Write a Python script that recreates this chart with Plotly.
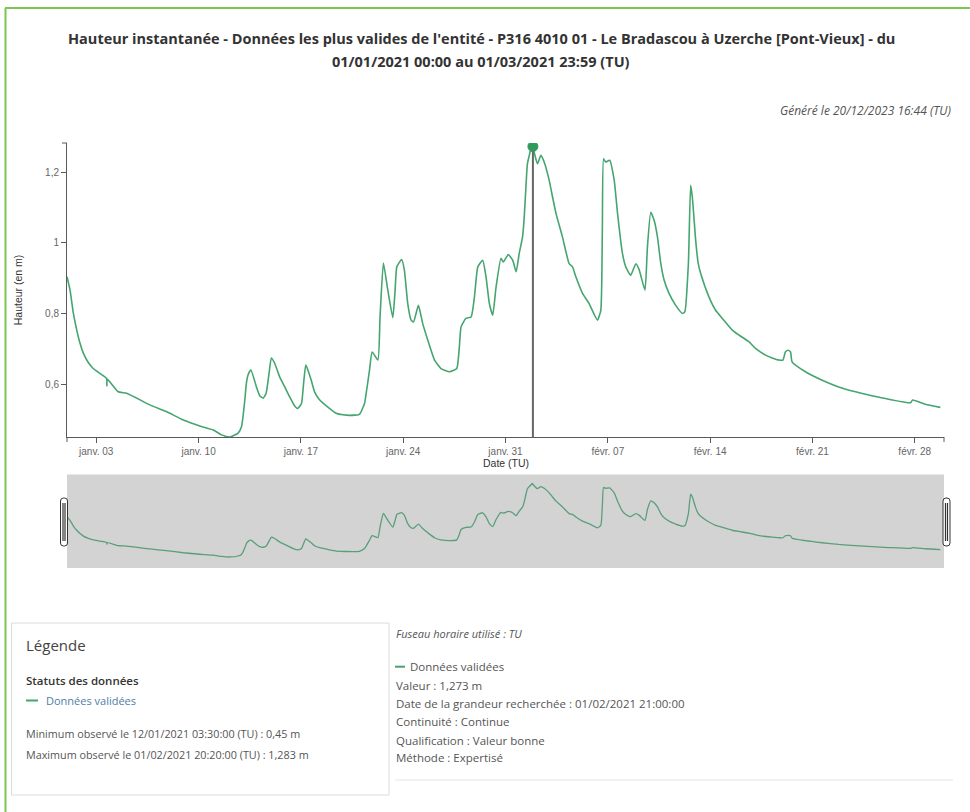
import plotly.graph_objects as go

# --- Série : hauteur instantanée (m), P316 4010 01, janvier-février 2021 (TU) ---
dates = [
    "2021-01-01 00:00", "2021-01-01 05:00", "2021-01-01 10:30", "2021-01-01 16:00",
    "2021-01-01 21:30", "2021-01-02 03:00", "2021-01-02 11:00", "2021-01-02 19:00",
    "2021-01-03 06:00", "2021-01-03 17:00", "2021-01-03 17:30", "2021-01-03 18:00",
    "2021-01-04 12:00", "2021-01-05 02:00", "2021-01-06 16:00", "2021-01-07 19:00",
    "2021-01-08 23:00", "2021-01-10 02:00", "2021-01-11 00:00", "2021-01-11 14:00",
    "2021-01-12 03:30", "2021-01-12 17:00", "2021-01-12 22:30", "2021-01-13 01:00",
    "2021-01-13 04:00", "2021-01-13 06:30", "2021-01-13 09:30", "2021-01-13 14:00",
    "2021-01-13 23:00", "2021-01-14 04:30", "2021-01-14 10:00", "2021-01-14 15:00",
    "2021-01-14 19:45", "2021-01-14 23:30", "2021-01-15 05:00", "2021-01-15 13:00",
    "2021-01-15 21:30", "2021-01-16 05:30", "2021-01-16 13:45", "2021-01-16 19:00",
    "2021-01-17 01:00", "2021-01-17 04:30", "2021-01-17 08:00", "2021-01-17 11:30",
    "2021-01-17 17:00", "2021-01-17 22:30", "2021-01-18 07:00", "2021-01-18 23:00",
    "2021-01-19 10:00", "2021-01-20 02:30", "2021-01-21 00:00", "2021-01-21 08:30",
    "2021-01-21 11:15", "2021-01-21 16:45", "2021-01-21 21:00", "2021-01-22 06:30",
    "2021-01-22 10:00", "2021-01-22 15:30", "2021-01-22 22:45", "2021-01-23 07:00",
    "2021-01-23 10:45", "2021-01-23 13:30", "2021-01-23 21:30", "2021-01-24 02:00",
    "2021-01-24 07:30", "2021-01-24 13:00", "2021-01-24 17:00", "2021-01-25 01:00",
    "2021-01-25 08:00", "2021-01-25 16:30", "2021-01-26 03:30", "2021-01-26 14:00",
    "2021-01-27 04:00", "2021-01-27 16:00", "2021-01-27 20:15", "2021-01-27 23:00",
    "2021-01-28 07:00", "2021-01-28 15:30", "2021-01-28 21:00", "2021-01-29 02:30",
    "2021-01-29 10:30", "2021-01-29 16:00", "2021-01-29 21:30", "2021-01-30 03:00",
    "2021-01-30 08:30", "2021-01-30 16:30", "2021-01-30 20:30", "2021-01-31 04:30",
    "2021-01-31 11:45", "2021-01-31 17:30", "2021-01-31 22:30", "2021-02-01 04:00",
    "2021-02-01 06:45", "2021-02-01 09:30", "2021-02-01 12:00", "2021-02-01 20:20",
    "2021-02-01 21:00", "2021-02-02 04:30", "2021-02-02 10:00", "2021-02-02 15:30",
    "2021-02-02 23:45", "2021-02-03 05:15", "2021-02-03 11:00", "2021-02-03 21:30",
    "2021-02-04 08:30", "2021-02-04 14:00", "2021-02-04 19:30", "2021-02-05 06:30",
    "2021-02-05 17:15", "2021-02-06 07:00", "2021-02-06 12:30", "2021-02-06 15:00",
    "2021-02-06 17:00", "2021-02-06 20:30", "2021-02-07 03:00", "2021-02-07 10:30",
    "2021-02-07 16:00", "2021-02-08 00:00", "2021-02-08 05:30", "2021-02-08 13:30",
    "2021-02-08 22:00", "2021-02-09 03:15", "2021-02-09 13:00", "2021-02-09 17:00",
    "2021-02-09 22:30", "2021-02-10 04:00", "2021-02-10 09:30", "2021-02-10 15:00",
    "2021-02-10 20:30", "2021-02-11 04:30", "2021-02-11 15:30", "2021-02-12 02:30",
    "2021-02-12 06:30", "2021-02-12 12:15", "2021-02-12 16:00", "2021-02-12 18:45",
    "2021-02-13 00:15", "2021-02-13 04:30", "2021-02-13 08:30", "2021-02-13 22:00",
    "2021-02-14 09:00", "2021-02-14 20:00", "2021-02-15 12:15", "2021-02-15 23:15",
    "2021-02-16 15:30", "2021-02-17 02:30", "2021-02-17 19:00", "2021-02-18 05:45",
    "2021-02-18 17:00", "2021-02-18 23:30", "2021-02-19 03:30", "2021-02-19 08:00",
    "2021-02-19 12:00", "2021-02-19 14:30", "2021-02-20 12:30", "2021-02-21 16:00",
    "2021-02-22 19:00", "2021-02-23 22:30", "2021-02-25 01:30", "2021-02-26 05:15",
    "2021-02-27 17:00", "2021-02-27 20:30", "2021-02-28 17:15", "2021-03-01 18:00",
]
hauteur = [
    0.904, 0.866, 0.800, 0.753,
    0.715, 0.687, 0.661, 0.644,
    0.630, 0.616, 0.595, 0.614,
    0.578, 0.574, 0.541, 0.522,
    0.498, 0.481, 0.470, 0.456,
    0.450, 0.461, 0.479, 0.508,
    0.555, 0.602, 0.627, 0.640,
    0.592, 0.567, 0.560, 0.574,
    0.630, 0.674, 0.659, 0.621,
    0.592, 0.564, 0.538, 0.531,
    0.545, 0.602, 0.654, 0.640,
    0.611, 0.578, 0.555, 0.531,
    0.517, 0.512, 0.514, 0.545,
    0.574, 0.640, 0.691, 0.668,
    0.790, 0.943, 0.866, 0.788,
    0.866, 0.932, 0.953, 0.922,
    0.828, 0.781, 0.776, 0.823,
    0.772, 0.724, 0.668, 0.644,
    0.635, 0.644, 0.706, 0.762,
    0.786, 0.790, 0.847, 0.932,
    0.951, 0.904, 0.828, 0.795,
    0.875, 0.956, 0.946, 0.967,
    0.951, 0.918, 0.970, 1.017,
    1.073, 1.158, 1.224, 1.283,
    1.273, 1.224, 1.248, 1.229,
    1.177, 1.130, 1.083, 1.017,
    0.941, 0.932, 0.904, 0.857,
    0.828, 0.781, 0.809, 1.036,
    1.238, 1.229, 1.234, 1.177,
    1.083, 0.970, 0.932, 0.908,
    0.941, 0.925, 0.866, 0.988,
    1.087, 1.064, 1.017, 0.941,
    0.894, 0.857, 0.823, 0.800,
    0.805, 0.941, 1.163, 1.130,
    1.007, 0.941, 0.913, 0.847,
    0.809, 0.786, 0.753, 0.739,
    0.720, 0.701, 0.682, 0.674,
    0.668, 0.668, 0.691, 0.696,
    0.691, 0.663, 0.635, 0.611,
    0.592, 0.578, 0.567, 0.557,
    0.547, 0.555, 0.543, 0.534,
]

# Période affichée et graduations de l'axe des dates
periode = ["2021-01-01 00:00", "2021-03-01 23:59"]
x_tickvals = ["2021-01-03", "2021-01-10", "2021-01-17", "2021-01-24", "2021-01-31",
              "2021-02-07", "2021-02-14", "2021-02-21", "2021-02-28"]
x_ticktext = ["janv. 03", "janv. 10", "janv. 17", "janv. 24", "janv. 31",
              "févr. 07", "févr. 14", "févr. 21", "févr. 28"]

# Extrêmes observés et point recherché
minimum = ("12/01/2021 03:30:00", 0.45)
maximum = ("01/02/2021 20:20:00", 1.283)
point_date = "2021-02-01 21:00"
point_label = "01/02/2021 21:00:00"
point_valeur = 1.273

# Échelle verticale du navigateur
nav_range = [0.325, 1.385]


def fr(v, nd=None):
    s = f"{v:.{nd}f}" if nd is not None else f"{v:g}"
    return s.replace(".", ",")


# Géométrie de la page (pixels)
W, H = 970, 812
L, R, T, B = 67, 26, 143, 244
PW, PH = W - L - R, H - T - B
MAIN_BOTTOM = 437
NAV_TOP = 474.5


def px(x):
    return (x - L) / PW


def py(y):
    return (T + PH - y) / PH


VERT = "#45a56f"
GRIS_TXT = "#555555"
AXE = "#5a5a5a"
F_UI = "Open Sans"
F_AX = "Liberation Sans"

fig = go.Figure()
fig.add_trace(go.Scatter(
    x=dates, y=hauteur, mode="lines", name="Données validées",
    line=dict(color=VERT, width=1.6, shape="spline", smoothing=0.45),
    hoverinfo="skip", showlegend=False, xaxis="x", yaxis="y",
))
# navigateur sous le graphique principal
fig.add_trace(go.Scatter(
    x=dates, y=hauteur, mode="lines", name="navigateur",
    line=dict(color="#5a9f7a", width=1.3, shape="spline", smoothing=0.45),
    hoverinfo="skip", showlegend=False, xaxis="x2", yaxis="y2",
))


def handle(x0, x1, y0, y1, r=3):
    """Poignée arrondie du navigateur (coordonnées pixels -> papier)."""
    X0, X1 = px(x0), px(x1)
    Y0, Y1 = py(y0), py(y1)
    rx, ry = r / PW, r / PH
    path = (f"M{X0 + rx},{Y0} L{X1 - rx},{Y0} Q{X1},{Y0} {X1},{Y0 - ry} "
            f"L{X1},{Y1 + ry} Q{X1},{Y1} {X1 - rx},{Y1} L{X0 + rx},{Y1} "
            f"Q{X0},{Y1} {X0},{Y1 + ry} L{X0},{Y0 - ry} Q{X0},{Y0} {X0 + rx},{Y0} Z")
    out = [dict(type="path", xref="paper", yref="paper", path=path,
                fillcolor="white", line=dict(color="#333333", width=1))]
    for xi in (x0 + 2.5, x1 - 2.5):
        out.append(dict(type="line", xref="paper", yref="paper",
                        x0=px(xi), x1=px(xi), y0=py(y0 + 5), y1=py(y1 - 5),
                        line=dict(color="#333333", width=1.2)))
    return out


shapes = [
    # fond gris du navigateur
    dict(type="rect", xref="x2 domain", yref="y2 domain", x0=0, x1=1, y0=0, y1=1,
         fillcolor="#d3d3d3", line=dict(width=0), layer="below"),
    # repère vertical du point recherché
    dict(type="line", xref="x", yref="y", x0=point_date, x1=point_date,
         y0=minimum[1], y1=point_valeur, line=dict(color="#666666", width=2)),
    dict(type="circle", xref="x", yref="y", xsizemode="pixel", ysizemode="pixel",
         xanchor=point_date, yanchor=point_valeur, x0=-5, x1=5, y0=-5, y1=5,
         fillcolor="#2f9a5c", line=dict(color="#2f9a5c", width=1)),
    # petites graduations aux extrémités des axes
    dict(type="line", xref="paper", yref="paper", x0=px(L - 5), x1=0, y0=1, y1=1,
         line=dict(color=AXE, width=1)),
    dict(type="line", xref="paper", yref="paper", x0=0, x1=0,
         y0=py(MAIN_BOTTOM), y1=py(MAIN_BOTTOM + 5), line=dict(color=AXE, width=1)),
    dict(type="line", xref="paper", yref="paper", x0=1, x1=1,
         y0=py(MAIN_BOTTOM), y1=py(MAIN_BOTTOM + 5), line=dict(color=AXE, width=1)),
    # cadre vert de la page
    dict(type="line", xref="paper", yref="paper", x0=px(5.5), x1=px(5.5), y0=py(8), y1=py(812),
         line=dict(color="#7bc751", width=2)),
    dict(type="line", xref="paper", yref="paper", x0=px(5), x1=px(970), y0=py(8), y1=py(8),
         line=dict(color="#7bc751", width=2)),
    # encadré de légende
    dict(type="rect", xref="paper", yref="paper", x0=px(11.5), x1=px(389), y0=py(623), y1=py(795),
         line=dict(color="#dcdcdc", width=1), fillcolor="rgba(0,0,0,0)"),
    # tirets de série
    dict(type="line", xref="paper", yref="paper", x0=px(26), x1=px(38), y0=py(700.5), y1=py(700.5),
         line=dict(color=VERT, width=2)),
    dict(type="line", xref="paper", yref="paper", x0=px(395), x1=px(405), y0=py(666.7), y1=py(666.7),
         line=dict(color=VERT, width=2)),
    # séparateur du panneau d'information
    dict(type="line", xref="paper", yref="paper", x0=px(395), x1=px(953), y0=py(780), y1=py(780),
         line=dict(color="#e6e6e6", width=1)),
]
shapes += handle(60.5, 67.5, 498, 546)
shapes += handle(943, 950, 498, 546)


def note(text, x, y, size=11, color=GRIS_TXT, family=F_UI, xanchor="left", **font_kw):
    return dict(text=text, xref="paper", yref="paper", x=px(x), y=py(y),
                xanchor=xanchor, yanchor="middle", showarrow=False,
                font=dict(family=family, size=size, color=color, **font_kw))


annotations = [
    note("Hauteur instantanée - Données les plus valides de l'entité - P316 4010 01 - "
         "Le Bradascou à Uzerche [Pont-Vieux] - du", 481, 38.5, size=14.5, color="#333333",
         xanchor="center", weight="bold"),
    note(f"{periode[0][8:10]}/{periode[0][5:7]}/{periode[0][:4]} {periode[0][11:]} au "
         f"{periode[1][8:10]}/{periode[1][5:7]}/{periode[1][:4]} {periode[1][11:]} (TU)",
         481, 61, size=14.5, color="#333333", xanchor="center", weight="bold"),
    note("Généré le 20/12/2023 16:44 (TU)", 953, 110, size=12, xanchor="right", style="italic"),
    note("Date (TU)", 505.5, 463, size=10.5, color="#333333", family=F_AX, xanchor="center"),
    # légende
    note("Légende", 24, 645, size=15, color="#444444"),
    note("Statuts des données", 24, 680, size=11.5, color="#333333", weight=600),
    note("Données validées", 44, 700.5, size=11, color="#4d7ea8"),
    note(f"Minimum observé le {minimum[0]} (TU) : {fr(minimum[1])} m", 24, 733, size=10.8),
    note(f"Maximum observé le {maximum[0]} (TU) : {fr(maximum[1])} m", 24, 754, size=10.8),
    # panneau d'information sur le point recherché
    note("Fuseau horaire utilisé : TU", 394, 633.3, size=11, style="italic"),
    note("Données validées", 408, 666.7, size=11.5),
    note(f"Valeur : {fr(point_valeur, 3)} m", 394, 685, size=11.5),
    note(f"Date de la grandeur recherchée : {point_label}", 394, 703, size=11.5),
    note("Continuité : Continue", 394, 721.7, size=11.5),
    note("Qualification : Valeur bonne", 394, 740, size=11.5),
    note("Méthode : Expertisé", 394, 757.7, size=11.5),
]

fig.update_layout(
    width=W, height=H,
    margin=dict(l=L, r=R, t=T, b=B, autoexpand=False),
    paper_bgcolor="white", plot_bgcolor="white",
    separators=", ",
    showlegend=False,
    shapes=shapes,
    annotations=annotations,
    font=dict(family=F_AX, size=10, color="#666666"),
    xaxis=dict(
        type="date", range=periode, anchor="y",
        tickvals=x_tickvals, ticktext=x_ticktext,
        showline=True, linecolor=AXE, linewidth=1,
        ticks="outside", ticklen=5, tickcolor=AXE, tickwidth=1,
        tickfont=dict(family=F_AX, size=10, color="#666666"),
        showgrid=False, zeroline=False,
    ),
    yaxis=dict(
        domain=[py(MAIN_BOTTOM), 1], anchor="x",
        range=[minimum[1], maximum[1]], dtick=0.2, tick0=0,
        showline=True, linecolor=AXE, linewidth=1,
        ticks="outside", ticklen=5, tickcolor=AXE, tickwidth=1,
        tickfont=dict(family=F_AX, size=10, color="#666666"),
        showgrid=False, zeroline=False,
        title=dict(text="Hauteur (en m)", font=dict(family=F_AX, size=10.5, color="#333333"),
                   standoff=20),
    ),
    xaxis2=dict(
        type="date", range=periode, anchor="y2", domain=[0, 1],
        visible=False, fixedrange=True,
    ),
    yaxis2=dict(
        range=nav_range, anchor="x2", domain=[0, py(NAV_TOP)],
        visible=False, fixedrange=True,
    ),
)

fig.write_html("out.html")
